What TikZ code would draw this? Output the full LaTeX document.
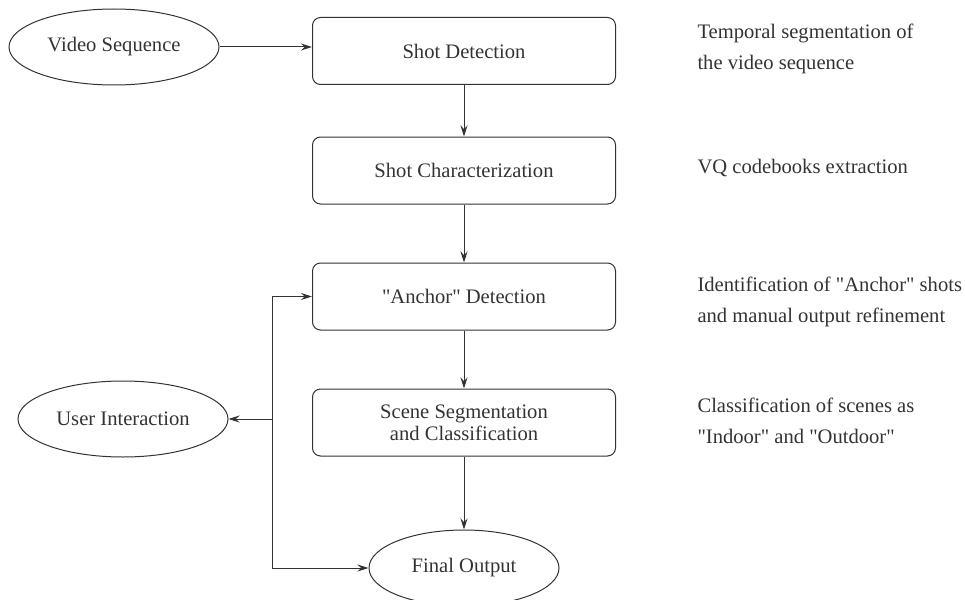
\documentclass[tikz,border=0pt]{standalone}
\usepackage{fontspec}
\setmainfont{Liberation Serif}[Ligatures=TeXOff]
\usetikzlibrary{shapes.geometric, arrows.meta}

\begin{document}
\begin{tikzpicture}[x=1pt, y=-1pt, line width=1pt, color=black!80,
  stage/.style={draw, rounded corners=8pt, minimum width=303pt, minimum height=67pt,
    inner sep=0pt, align=center, font=\fontsize{20.6}{22}\selectfont},
  terminal/.style={draw, ellipse, minimum width=210pt, minimum height=76pt,
    inner sep=0pt, font=\fontsize{20.6}{22}\selectfont},
  note/.style={anchor=west, align=left, inner sep=0pt, font=\fontsize{20.6}{31}\selectfont},
  flow/.style={-{Stealth[length=11pt, width=7pt]}}]
\useasboundingbox (0,0) rectangle (965,599);

\node[terminal] (video) at (114,47) {Video Sequence};
\node[stage] (shotdet) at (464,51) {Shot Detection};
\node[stage] (shotchar) at (464,170.5) {Shot Characterization};
\node[stage] (anchor) at (464,296.5) {"Anchor" Detection};
\node[stage] (scene) at (464,422.5) {Scene Segmentation\\and Classification};
\node[terminal, minimum width=190pt] (final) at (464,568) {Final Output};
\node[terminal] (user) at (123,419) {User Interaction};

\node[note] (temporal) at (697,49) {Temporal segmentation of\\the video sequence};
\node[note] (vq) at (697,168) {VQ codebooks extraction};
\node[note] (ident) at (697,302) {Identification of "Anchor" shots\\and manual output refinement};
\node[note] (classif) at (697,421) {Classification of scenes as\\"Indoor" and "Outdoor"};

\draw[flow] (video.east) -- (video.east -| shotdet.west);
\draw[flow] (shotdet) -- (shotchar);
\draw[flow] (shotchar) -- (anchor);
\draw[flow] (anchor) -- (scene);
\draw[flow] (scene) -- (final);

\coordinate (bus) at (272,419);
\draw[flow] (bus) -- (user);
\draw[flow] (bus) |- (anchor.west);
\draw[flow] (bus) |- (final.west);
\end{tikzpicture}
\end{document}
